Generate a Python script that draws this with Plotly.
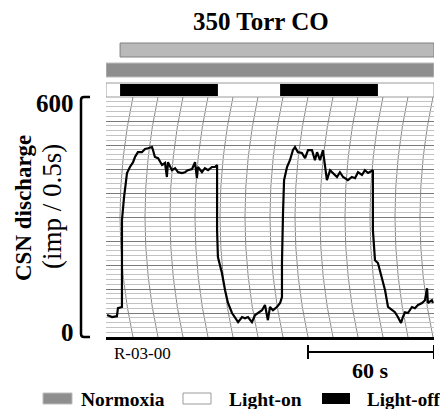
import plotly.graph_objects as go

# ---------------- data ----------------
time_s = [0.5, 2.9, 5.2, 5.7, 7.6, 7.6, 8.6, 10.0, 11.4, 12.9, 13.8, 15.2, 17.1, 18.6, 20.0,
          21.9, 22.4, 23.3, 24.8, 26.7, 28.1, 29.0, 29.5, 31.4, 32.9, 34.3, 36.2, 37.6, 39.0,
          41.0, 42.4, 43.3, 43.8, 45.7, 47.1, 48.6, 50.5, 51.9, 52.9, 52.9, 53.3, 55.2, 56.7,
          58.1, 60.0, 61.4, 62.9, 64.8, 66.2, 67.6, 69.5, 71.0, 72.4, 74.3, 75.7, 77.1, 78.1,
          79.5, 81.4, 82.9, 83.8, 83.8, 84.3, 84.8, 86.2, 87.6, 89.0, 90.0, 91.4, 93.3, 94.8,
          96.2, 98.1, 99.5, 100.5, 101.9, 103.3, 104.3, 105.2, 106.7, 108.1, 110.0, 111.4,
          112.9, 115.2, 117.1, 118.6, 120.0, 121.9, 123.3, 124.8, 126.7, 127.1, 127.1, 128.1,
          129.5, 131.4, 132.9, 134.3, 136.2, 137.6, 139.0, 140.5, 141.4, 142.4, 143.8, 145.7,
          147.1, 148.6, 150.5, 151.9, 152.9, 153.3, 155.2, 155.7]
discharge = [55, 50, 52, 72, 75, 292, 350, 410, 425, 437, 450, 462, 462, 470, 472,
             475, 467, 450, 447, 430, 435, 400, 437, 417, 422, 412, 410, 412, 417,
             420, 437, 397, 425, 412, 422, 417, 425, 425, 430, 267, 200, 160, 117,
             85, 60, 50, 37, 50, 47, 50, 37, 55, 60, 67, 80, 42, 75,
             67, 75, 85, 100, 185, 310, 392, 425, 442, 467, 475, 462, 460, 447,
             467, 467, 442, 462, 442, 467, 425, 392, 417, 410, 400, 412,
             400, 392, 400, 397, 412, 405, 417, 410, 417, 417, 267, 192,
             185, 150, 117, 75, 67, 62, 50, 35, 50, 62, 60, 75,
             72, 80, 85, 92, 122, 85, 92, 85]

t_end = 156.2
co_start = 6.7
light_off_start = [6.7, 82.9]
light_off_end = [53.3, 129.5]
y_ticks = [0, 600]
scale_bar_s = 60

# ---------------- layout helpers ----------------
# the page body has an 8px margin, so the figure is 440x401 placed at (8, 8)
PAGE_OFF = 8
W, H = 448 - PAGE_OFF, 409 - PAGE_OFF
PLOT_X0, PLOT_X1, PLOT_Y0, PLOT_Y1 = 106, 434, 97, 337   # page pixels
L = PLOT_X0 - PAGE_OFF
T = PLOT_Y0 - PAGE_OFF
R = W - (PLOT_X1 - PAGE_OFF)
B = H - (PLOT_Y1 - PAGE_OFF)
PW, PH = PLOT_X1 - PLOT_X0, PLOT_Y1 - PLOT_Y0


def px(x):
    return (x - PLOT_X0) / PW


def py(y):
    return (PLOT_Y1 - y) / PH


SERIF = "Liberation Serif, Times New Roman, serif"

fig = go.Figure()
fig.add_trace(go.Scatter(x=time_s, y=discharge, mode="lines",
                         line=dict(color="black", width=2.2), showlegend=False,
                         hoverinfo="skip"))

shapes = []
# curved chart-paper arcs
sec_per_px = 60 / 126
arc_step = 25 * sec_per_px
bulge = -13 * sec_per_px
t0 = (133 - PLOT_X0) * sec_per_px
while t0 < t_end + 0.5:
    shapes.append(dict(type="path", xref="x", yref="y", layer="below",
                       path=f"M {t0:.2f},600 Q {t0 + 2 * bulge:.2f},300 {t0:.2f},0",
                       line=dict(color="#8a8a8a", width=1)))
    t0 += arc_step

# top bars
shapes.append(dict(type="rect", xref="x", yref="paper", x0=co_start, x1=t_end,
                   y0=py(57), y1=py(43), fillcolor="#b9b9b9",
                   line=dict(color="#808080", width=1)))
shapes.append(dict(type="rect", xref="x", yref="paper", x0=0, x1=t_end,
                   y0=py(77), y1=py(63), fillcolor="#8e8e8e",
                   line=dict(color="#bdbdbd", width=1)))
shapes.append(dict(type="rect", xref="x", yref="paper", x0=0, x1=t_end,
                   y0=py(97), y1=py(83), fillcolor="white",
                   line=dict(color="#9a9a9a", width=1)))
for s, e in zip(light_off_start, light_off_end):
    shapes.append(dict(type="rect", xref="x", yref="paper", x0=s, x1=e,
                       y0=py(96), y1=py(84), fillcolor="black", line=dict(width=0)))

# left bracket
shapes.append(dict(type="path", xref="paper", yref="paper",
                   path=(f"M {px(90)},{py(97)} L {px(84)},{py(97)} Q {px(81)},{py(97)} {px(81)},{py(100)} "
                         f"L {px(81)},{py(334)} Q {px(81)},{py(337)} {px(84)},{py(337)} L {px(90)},{py(337)}"),
                   line=dict(color="black", width=2.5)))

# 60 s scale bar
sb_x0 = t_end - scale_bar_s
shapes.append(dict(type="line", xref="x", yref="paper", x0=sb_x0, x1=t_end,
                   y0=py(352), y1=py(352), line=dict(color="black", width=2)))
for xx in (sb_x0, t_end):
    shapes.append(dict(type="line", xref="x", yref="paper", x0=xx, x1=xx,
                       y0=py(345), y1=py(359), line=dict(color="black", width=2)))

# legend swatches
shapes.append(dict(type="rect", xref="paper", yref="paper", x0=px(43), x1=px(72),
                   y0=py(404), y1=py(393), fillcolor="#8e8e8e", line=dict(color="#bdbdbd", width=1)))
shapes.append(dict(type="rect", xref="paper", yref="paper", x0=px(183), x1=px(211),
                   y0=py(404), y1=py(393), fillcolor="white", line=dict(color="#9a9a9a", width=1)))
shapes.append(dict(type="rect", xref="paper", yref="paper", x0=px(322), x1=px(350),
                   y0=py(404), y1=py(393), fillcolor="black", line=dict(width=0)))

ann = []


def text(x, y, s, size, bold=False, xanchor="center", angle=0):
    ann.append(dict(xref="paper", yref="paper", x=px(x), y=py(y), text=f"<b>{s}</b>" if bold else s,
                    showarrow=False, xanchor=xanchor, yanchor="middle", textangle=angle,
                    borderpad=0, font=dict(family=SERIF, size=size, color="black")))


text(261, 21, "350 Torr CO", 25, bold=True)
text(75, 103, str(y_ticks[1]), 25, bold=True, xanchor="right")
text(75, 332, str(y_ticks[0]), 25, bold=True, xanchor="right")
text(23, 208, "CSN discharge", 23, bold=True, angle=-90)
text(52, 207, "(imp / 0.5s)", 27, angle=-90)
text(113, 353, "R-03-00", 17, xanchor="left")
text(370, 370, f"{scale_bar_s} s", 22, bold=True)
text(80, 399, "Normoxia", 19.5, bold=True, xanchor="left")
text(228, 399, "Light-on", 19.5, bold=True, xanchor="left")
text(366, 399, "Light-off", 19, bold=True, xanchor="left")

fig.update_layout(
    width=W, height=H, margin=dict(l=L, r=R, t=T, b=B),
    paper_bgcolor="white", plot_bgcolor="white",
    shapes=shapes, annotations=ann,
    xaxis=dict(range=[0, t_end], showgrid=False, zeroline=False, showticklabels=False,
               ticks="", showline=True, linecolor="black", linewidth=3, mirror=False),
    yaxis=dict(range=[0, 600], showticklabels=False, ticks="", zeroline=False,
               showline=False, dtick=60, showgrid=True, gridcolor="#7a7a7a", gridwidth=1,
               minor=dict(dtick=12, showgrid=True, gridcolor="#c2c2c2", gridwidth=1)),
)

fig.write_html("out.html", post_script="document.body.style.overflow='hidden';")
